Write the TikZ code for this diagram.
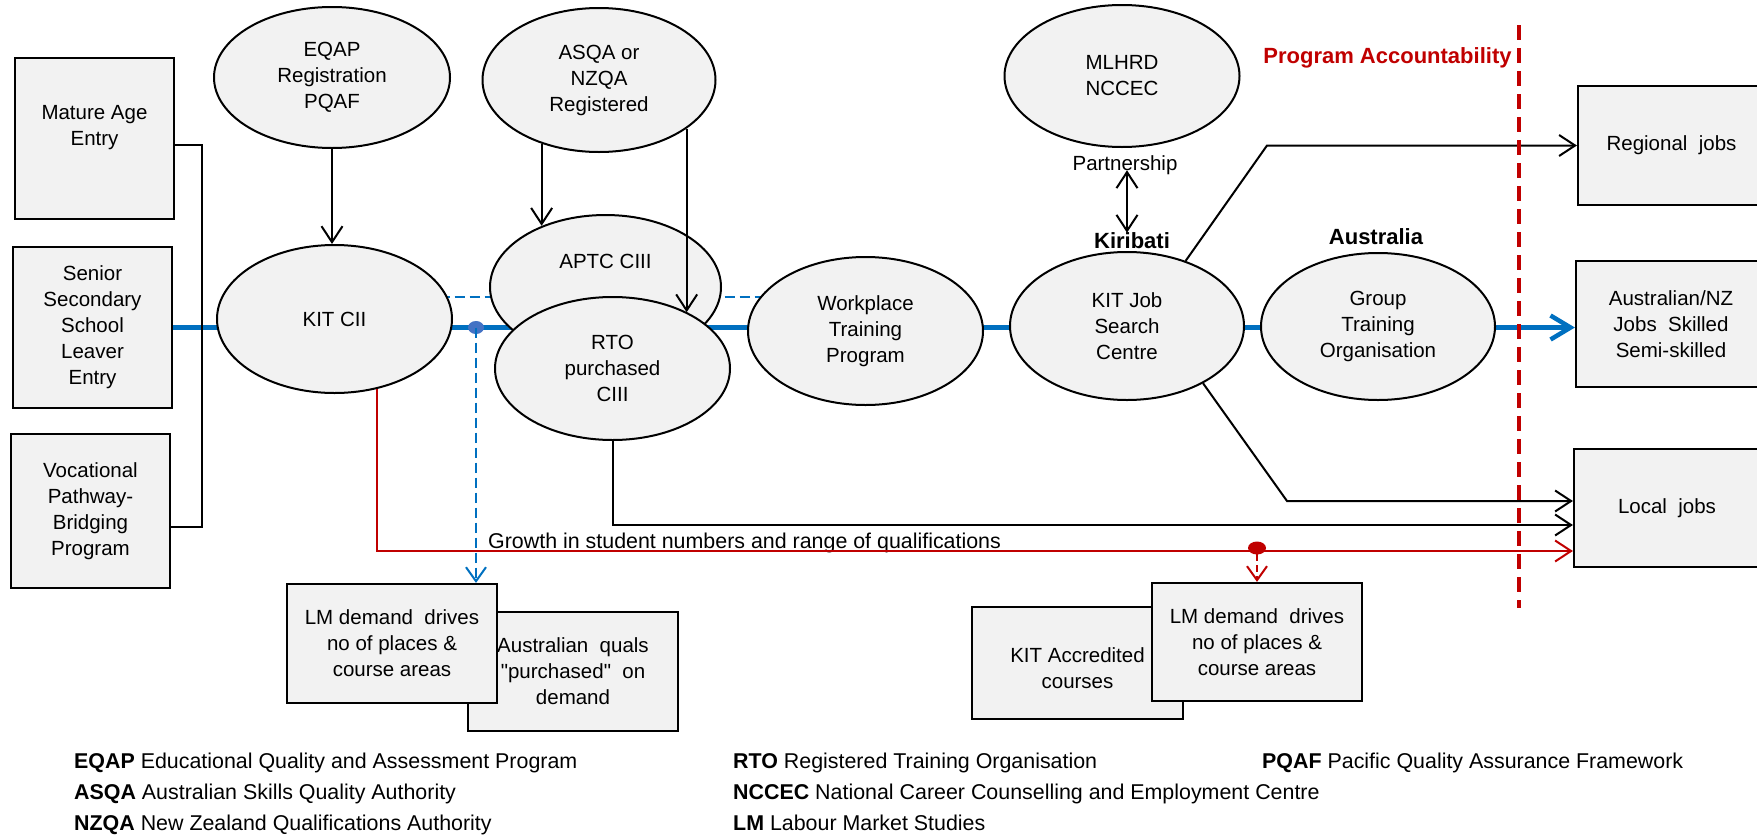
\documentclass[tikz,border=0pt]{standalone}
\usepackage{fontspec}
\setmainfont{Liberation Sans}
\usetikzlibrary{shapes.geometric,arrows.meta,backgrounds}
\definecolor{boxgray}{HTML}{F2F2F2}
\definecolor{flowblue}{HTML}{0070C0}
\definecolor{dotblue}{HTML}{4472C4}
\definecolor{accred}{HTML}{C00000}

\begin{document}
\begin{tikzpicture}[%
    x=1pt, y=-1pt,
    every node/.style={font=\fontsize{20.5pt}{26pt}\selectfont, inner sep=0pt},
    stagebox/.style={
        rectangle, draw=black, line width=2.2pt, fill=boxgray, align=center
    },
    stageoval/.style={
        ellipse, draw=black, line width=2pt, fill=boxgray, align=center,
        minimum width=235pt, minimum height=146pt
    },
    region/.style={font=\fontsize{22pt}{26pt}\selectfont\bfseries},
    legend/.style={anchor=base west, font=\fontsize{21.4pt}{26pt}\selectfont},
    conn/.style={draw=black, line width=2pt},
    barb/.style={-{Straight Barb[length=16pt,width=21pt]}},
    mainflow/.style={draw=flowblue, line width=4.5pt},
    dashflow/.style={draw=flowblue, line width=2pt, dash pattern=on 10pt off 5pt},
    redflow/.style={draw=accred, line width=2pt},
    reddash/.style={draw=accred, line width=2pt, dash pattern=on 7pt off 4pt},
    accline/.style={draw=accred, line width=4.5pt, dash pattern=on 15pt off 8pt}
]
    % Keep the margins of the page.
    \useasboundingbox (0,0) rectangle (1757,838);

    % Entry boxes on the left.
    \node[stagebox, minimum width=159pt, minimum height=161pt] (mature) at (94.5,138.5) {Mature Age\\Entry\\\mbox{}};
    \node[stagebox, minimum width=159pt, minimum height=161pt] (senior) at (92.5,327.5) {Senior\\Secondary\\School\\Leaver\\Entry};
    \node[stagebox, minimum width=159pt, minimum height=154pt] (vocational) at (90.5,511) {Vocational\\Pathway-\\Bridging\\Program};

    % Registration bodies along the top.
    \node[stageoval, minimum width=236pt, minimum height=141pt] (eqap) at (332,77.5) {EQAP\\Registration\\PQAF};
    \node[stageoval, minimum width=233pt, minimum height=144pt] (asqa) at (599,80) {ASQA or\\NZQA\\Registered};
    \node[stageoval, minimum height=142pt] (mlhrd) at (1122,76) {MLHRD\\NCCEC};

    % The training chain.
    \node[stageoval, minimum height=148pt] (kitcii) at (334.5,319) {KIT CII};
    \node[stageoval, minimum width=231pt, minimum height=144pt] (aptc) at (605.5,287) {APTC CIII\\[26pt]\mbox{}};
    \node[stageoval, minimum height=143pt] (rto) at (612.5,368.5) {RTO\\purchased\\CIII};
    \node[stageoval, minimum height=148pt] (workplace) at (865.5,331) {Workplace\\Training\\Program};
    \node[stageoval, minimum width=234pt, minimum height=148pt] (kitjob) at (1127,326) {KIT Job\\Search\\Centre};
    \node[stageoval, minimum width=234pt, minimum height=147pt] (gto) at (1378,326.5) {Group\\Training\\Organisation};

    % Jobs on the right.
    \node[stagebox, minimum width=187pt, minimum height=119pt] (regional) at (1671.5,145.5) {Regional\ \ jobs};
    \node[stagebox, minimum width=190pt, minimum height=126pt] (ausnz) at (1671,324) {Australian/NZ\\Jobs\ \ Skilled\\Semi-skilled};
    \node[stagebox, minimum width=186pt, minimum height=118pt] (local) at (1667,508) {Local\ \ jobs};

    % Demand boxes below.
    \node[stagebox, minimum width=210pt, minimum height=119pt] (ausquals) at (573,671.5) {Australian\ \ quals\\\textquotedbl purchased\textquotedbl\ \ on\\demand};
    \node[stagebox, minimum width=210pt, minimum height=119pt] (lmleft) at (392,643.5) {LM demand\ \ drives\\no of places \&\\course areas};
    \node[stagebox, minimum width=211pt, minimum height=112pt] (kitacc) at (1077.5,663) {\mbox{}\\KIT Accredited\\courses};
    \node[stagebox, minimum width=210pt, minimum height=118pt] (lmright) at (1257,642) {LM demand\ \ drives\\no of places \&\\course areas};

    % Labels.
    \node (partner) at (1125,165) {Partnership};
    \node[region] (kiribati) at (1132,241) {Kiribati};
    \node[region] (australia) at (1376,237) {Australia};
    \node[region, text=accred, anchor=base] (progacc) at (1387.5,63) {Program Accountability};
    \node[legend] (growth) at (488,548) {Growth in student numbers and range of qualifications};

    % Blue flow behind the ovals.
    \begin{scope}[on background layer]
        \draw[mainflow, -{Straight Barb[length=20pt,width=24pt]}] (senior.east) -- (senior.east -| ausnz.west);
        \draw[dashflow] ([yshift=22pt]kitcii.center) -- ([yshift=22pt]kitcii.center -| workplace.center);
    \end{scope}

    % Points for the bends.
    \coordinate (brk) at (202,527);
    \coordinate (bdot) at (476,327.5);
    \coordinate (regbend) at (1267,145.5);
    \coordinate (locbend) at (1287,501);
    \coordinate (redend) at ([yshift=-43pt]local.west);
    \coordinate (rdot) at (redend -| lmright.north);
    \coordinate (ptop) at ([xshift=2pt]partner.base);

    % Entry bracket.
    \draw[conn] ([yshift=-6.5pt]mature.east) -| (brk) -- (brk -| vocational.east);

    % Registration arrows.
    \draw[conn, barb] (eqap.south) -- (eqap.south |- kitcii.north);
    \draw[conn, barb] (asqa.-132) -- (asqa.-132 |- aptc.136);
    \draw[conn, barb] (asqa.-29) -- (asqa.-29 |- rto.37);
    \draw[conn, {Straight Barb[length=16pt,width=21pt]}-{Straight Barb[length=16pt,width=21pt]}]
        (ptop) -- (ptop |- kiribati.north);

    % Demand off the main flow.
    \fill[dotblue] (bdot) ellipse [x radius=8pt, y radius=6.5pt];
    \draw[dashflow, -{Straight Barb[length=14pt,width=20pt]}] (bdot) -- (bdot |- lmleft.north);

    % Outcomes to jobs.
    \draw[conn, barb] (kitjob.48) -- (regbend) -- (regbend -| regional.west);
    \draw[conn, barb] (kitjob.-37) -- (locbend) -- (locbend -| local.west);
    \draw[conn, barb] (rto.south) |- ([yshift=-17pt]local.west);
    \draw[redflow, -{Straight Barb[length=16pt,width=21pt]}] (kitcii.-59) |- (redend);
    \fill[accred] ([yshift=3pt]rdot) ellipse [x radius=9pt, y radius=6.5pt];
    \draw[reddash, -{Straight Barb[length=14pt,width=20pt]}] ([yshift=-3pt]rdot) -- (lmright.north);

    % Accountability border.
    \draw[accline] (1519,25) -- (1519,608);

    % Legend.
    \node[legend] (legeqap) at (74,768) {\textbf{EQAP} Educational Quality and Assessment Program};
    \node[legend] (legasqa) at (74,799) {\textbf{ASQA} Australian Skills Quality Authority};
    \node[legend] (legnzqa) at (74,830) {\textbf{NZQA} New Zealand Qualifications Authority};
    \node[legend] (legrto) at (733,768) {\textbf{RTO} Registered Training Organisation};
    \node[legend] (legnccec) at (733,799) {\textbf{NCCEC} National Career Counselling and Employment Centre};
    \node[legend] (leglm) at (733,830) {\textbf{LM} Labour Market Studies};
    \node[legend] (legpqaf) at (1262,768) {\textbf{PQAF} Pacific Quality Assurance Framework};
\end{tikzpicture}
\end{document}
